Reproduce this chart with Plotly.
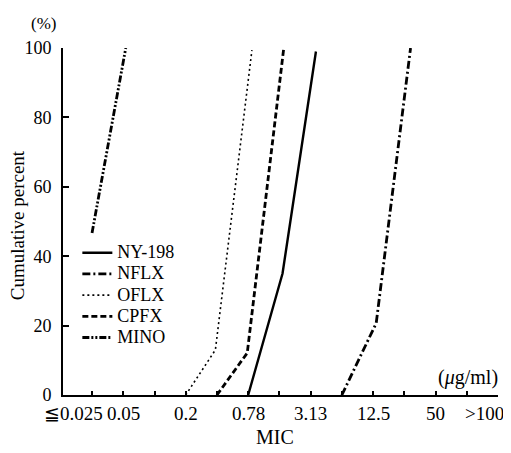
import plotly.graph_objects as go

# MIC scale positions (two-fold dilution steps): 0 -> 0.025 ... 12 -> 100, 13 -> >100
mic_ticks = list(range(14))
tick_labels = ["≦0.025", "0.05", "0.2", "0.78", "3.13", "12.5", "50", ">100"]
tick_label_pos = [0, 1, 3, 5, 7, 9, 11, 12.5]

series_names = ["NY-198", "NFLX", "OFLX", "CPFX", "MINO"]
ny198_x = [5.0, 6.1, 7.17]
ny198_y = [0, 35, 99]
nflx_x = [8.0, 9.1, 10.2]
nflx_y = [0, 20.7, 100]
oflx_x = [3.0, 3.95, 5.12]
oflx_y = [0, 13, 99.4]
cpfx_x = [4.0, 4.97, 6.14]
cpfx_y = [0, 12.1, 100]
mino_x = [0.0, 1.08]
mino_y = [46.7, 100]

y_ticks = [0, 20, 40, 60, 80, 100]

FONT = "Liberation Serif, DejaVu Serif, serif"

styles = [
    dict(width=2.4, dash="solid"),
    dict(width=2.8, dash="8px,3px,2px,3px"),
    dict(width=1.6, dash="2px,3px"),
    dict(width=2.8, dash="6px,3px"),
    dict(width=2.8, dash="7px,2px,2px,2px,2px,2px"),
]
xs = [ny198_x, nflx_x, oflx_x, cpfx_x, mino_x]
ys = [ny198_y, nflx_y, oflx_y, cpfx_y, mino_y]

fig = go.Figure()
for name, x, y, st in zip(series_names, xs, ys, styles):
    fig.add_trace(go.Scatter(
        x=x, y=y, mode="lines",
        name=f'<span style="font-size:18px">{name}</span>',
        line=dict(color="black", width=st["width"], dash=st["dash"]),
    ))

annotations = []
shifts = {"≦0.025": -19, ">100": 2}
for lab, pos in zip(tick_labels, tick_label_pos):
    annotations.append(dict(
        x=pos, y=0, xref="x", yref="paper", text=lab, showarrow=False,
        xanchor="center", yanchor="top", yshift=-6, xshift=shifts.get(lab, 0),
        font=dict(family=FONT, size=19, color="black"),
    ))
annotations += [
    dict(x=-0.044, y=1.072, xref="paper", yref="paper", text="(%)", showarrow=False,
         xanchor="center", yanchor="middle",
         font=dict(family=FONT, size=17, color="black")),
    dict(x=-0.103, y=0.49, xref="paper", yref="paper", text="Cumulative percent",
         textangle=-90, showarrow=False, xanchor="center", yanchor="middle",
         font=dict(family=FONT, size=19, color="black")),
    dict(x=0.487, y=-0.121, xref="paper", yref="paper", text="MIC", showarrow=False,
         xanchor="center", yanchor="middle",
         font=dict(family=FONT, size=20, color="black")),
    dict(x=1.005, y=0.049, xref="paper", yref="paper", text="(<i>μ</i>g/ml)",
         xanchor="right", yanchor="middle", showarrow=False,
         font=dict(family=FONT, size=20, color="black")),
]

fig.update_layout(
    width=503, height=445,
    margin=dict(l=55, r=13, t=40, b=58),
    paper_bgcolor="white", plot_bgcolor="white",
    showlegend=True,
    legend=dict(x=0.033, y=0.455, xanchor="left", yanchor="top",
                font=dict(family=FONT, size=14, color="black"),
                bgcolor="rgba(0,0,0,0)", tracegroupgap=0),
    annotations=annotations,
    font=dict(family=FONT, color="black"),
)
fig.update_xaxes(
    range=[-0.93, 13.0], tickmode="array", tickvals=mic_ticks,
    ticktext=[""] * len(mic_ticks), ticks="inside", ticklen=4, tickwidth=1.5,
    tickcolor="black", showline=True, linecolor="black", linewidth=2,
    showgrid=False, zeroline=False,
)
fig.update_yaxes(
    range=[0, 100], tickmode="array", tickvals=y_ticks,
    ticks="inside", ticklen=6, tickwidth=1.5, tickcolor="black",
    showline=True, linecolor="black", linewidth=2, showgrid=False, zeroline=False,
    tickfont=dict(family=FONT, size=18, color="black"), ticklabelstandoff=6,
)
fig.write_html("out.html")
